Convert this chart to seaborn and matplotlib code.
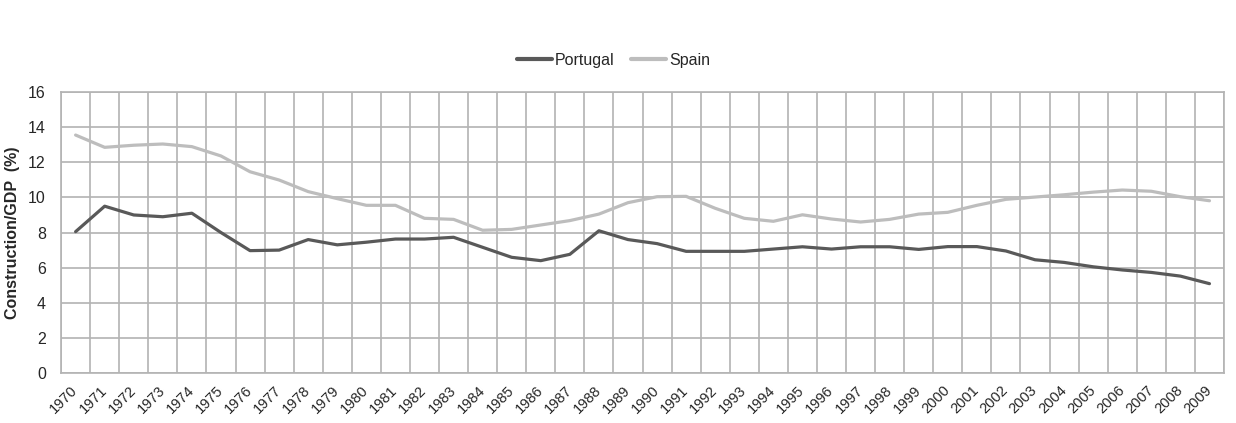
import numpy as np
import pandas as pd
import seaborn as sns
import matplotlib.pyplot as plt
from matplotlib.ticker import MultipleLocator, FixedLocator

years = list(range(1970, 2010))

portugal = [8.05, 9.5, 9.0, 8.9, 9.1, 8.0, 6.97, 7.0, 7.6, 7.3,
            7.45, 7.63, 7.63, 7.73, 7.16, 6.59, 6.4, 6.76, 8.1, 7.6,
            7.37, 6.93, 6.93, 6.93, 7.06, 7.19, 7.06, 7.19, 7.19, 7.04,
            7.2, 7.2, 6.95, 6.45, 6.3, 6.05, 5.87, 5.73, 5.52, 5.09]

spain = [13.55, 12.85, 12.97, 13.04, 12.89, 12.36, 11.46, 10.99, 10.33, 9.93,
         9.55, 9.55, 8.81, 8.75, 8.13, 8.18, 8.43, 8.68, 9.05, 9.7,
         10.04, 10.06, 9.38, 8.81, 8.64, 9.01, 8.77, 8.6, 8.75, 9.05,
         9.15, 9.55, 9.89, 10.02, 10.15, 10.3, 10.42, 10.35, 10.04, 9.81]

countries = ["Portugal", "Spain"]
colors = ["#595959", "#bdbdbd"]

df = pd.DataFrame({
    "year": years * 2,
    "value": portugal + spain,
    "country": ["Portugal"] * len(years) + ["Spain"] * len(years),
})

sns.set_style("white")
plt.rcParams['font.family'] = ['Liberation Sans', 'DejaVu Sans']

fig = plt.figure(figsize=(12.36, 4.23), dpi=100)
ax = fig.add_axes([0.0494, 0.118, 0.9409, 0.6645])

sns.lineplot(data=df, x="year", y="value", hue="country", hue_order=countries,
             palette=colors, linewidth=2.3, ax=ax, zorder=3)

grid_col = "#b3b3b3"
ax.set_xlim(years[0] - 0.5, years[-1] + 0.5)
ax.set_ylim(0, 16)
ax.yaxis.set_major_locator(MultipleLocator(2))

# category boundaries carry the vertical grid, like an Excel chart
ax.set_xticks(years)
ax.set_xticklabels([str(y) for y in years], rotation=45, ha="right",
                   va="center", rotation_mode="anchor", fontsize=10.5)
ax.xaxis.set_minor_locator(FixedLocator(np.arange(years[0] - 0.5, years[-1] + 1, 1)))
ax.tick_params(axis="x", which="major", length=0, pad=11)
ax.tick_params(axis="x", which="minor", length=5, color=grid_col, width=1.2)
ax.tick_params(axis="y", which="major", length=5, color=grid_col, width=1.2,
               labelsize=11.5, pad=6)

ax.grid(True, axis="y", which="major", color=grid_col, linewidth=1.2)
ax.grid(True, axis="x", which="minor", color=grid_col, linewidth=1.2)
ax.grid(False, axis="x", which="major")
for s in ax.spines.values():
    s.set_color(grid_col)
    s.set_linewidth(1.2)

ax.set_xlabel("")
ax.set_ylabel("Construction/GDP  (%)", fontsize=11.5, fontweight="bold", labelpad=6)

leg = ax.legend(loc="lower center", bbox_to_anchor=(0.475, 1.035), ncol=2,
                frameon=False, fontsize=11.5, handlelength=2.2, handletextpad=0.2,
                columnspacing=1.0)
for h in leg.get_lines():
    h.set_linewidth(3)

fig.savefig("out.png", dpi=100)
